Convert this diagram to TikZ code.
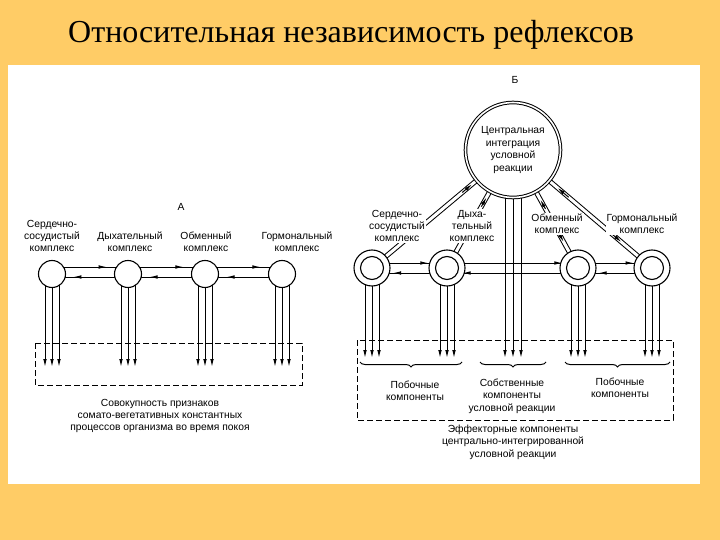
\documentclass[tikz,border=0pt]{standalone}
\usepackage{fontspec}
\setmainfont{Liberation Serif}
\newfontfamily\lab{Liberation Sans}
\usetikzlibrary{arrows.meta,decorations.markings,decorations.pathreplacing,calc}
\begin{document}
\begin{tikzpicture}[x=1pt,y=-1pt,
  tip/.style={-{Latex[length=8pt,width=3.6pt]}},
  midarr/.style={postaction={decorate,decoration={markings,mark=at position #1 with {\arrow{Latex[length=8pt,width=3.6pt]}}}}},
  lbl/.style={font=\lab\fontsize{10.3}{12.4}\selectfont,align=center,inner sep=1pt},
  lblw/.style={lbl,fill=white},
  cA/.style={circle,draw,fill=white,minimum size=27pt,inner sep=0pt,line width=1.1pt},
  cBo/.style={circle,draw,fill=white,minimum size=36pt,inner sep=0pt,line width=1.1pt},
  cBi/.style={circle,draw,minimum size=23pt,inner sep=0pt,line width=1.1pt},
  tube/.style={draw,line width=1pt,double=white,double distance=3pt},
  dbox/.style={draw,dashed,dash pattern=on 6pt off 3pt,line width=1pt},
  ln/.style={line width=1pt}]
\useasboundingbox (0,0) rectangle (720,540);
\fill[fill={rgb,255:red,255;green,204;blue,102}] (0,0) rectangle (720,540);
\fill[white] (8,65) rectangle (700,484);
\node[anchor=base west,font=\fontsize{32}{36}\selectfont,inner sep=0] (title) at (68,43) {Относительная независимость рефлексов};

% ---------- Part A ----------
\node[lbl] (A) at (181,207) {А};
\foreach \n/\x in {a1/52,a2/128,a3/205,a4/282}{\coordinate (\n) at (\x,274);}
\foreach \p/\q in {a1/a2,a2/a3,a3/a4}{
  \draw[ln,midarr=0.72] ($(\p)+(0,-7)$) -- ($(\q)+(0,-7)$);
  \draw[ln,midarr=0.72] ($(\q)+(0,3)$) -- ($(\p)+(0,3)$);
}
\foreach \n in {a1,a2,a3,a4}{
  \foreach \d in {-7,0,7}{\draw[ln,tip] ($(\n)+(\d,0)$) -- ($(\n)+(\d,93)$);}
  \node[cA] at (\n) {};
}
\node[lbl] (la1) at (52,236) {Сердечно-\\сосудистый\\комплекс};
\node[lbl] (la2) at (130,242) {Дыхательный\\комплекс};
\node[lbl] (la3) at (206,242) {Обменный\\комплекс};
\node[lbl] (la4) at (297,242) {Гормональный\\комплекс};
\draw[dbox] (35,343) rectangle (302,385);
\node[lbl] (sumA) at (160,416) {Совокупность признаков\\сомато-вегетативных константных\\процессов организма во время покоя};

% ---------- Part B ----------
\node[lbl] (B) at (515,80) {Б};
\coordinate (big) at (513,150);
\foreach \n/\x in {b1/372,b2/447,b3/578,b4/652}{\coordinate (\n) at (\x,268);}
\foreach \n in {b1,b2,b3,b4}{
  \path[tube] (\n) -- (big);
}
\foreach \n/\s/\e in {b1/0.64/0.71,b2/0.52/0.60,b3/0.50/0.58,b4/0.60/0.68}{
  \draw[ln,tip] ($(\n)!\s!(big)$) -- ($(\n)!\e!(big)$);
  \draw[ln,tip] ($(\n)!0.32!(big)$) -- ($(\n)!0.22!(big)$);
}
\foreach \p/\q/\a/\b in {b1/b2/0.75/0.72,b2/b3/0.88/0.88,b3/b4/0.75/0.72}{
  \draw[ln,midarr=\a] ($(\p)+(0,-5)$) -- ($(\q)+(0,-5)$);
  \draw[ln,midarr=\b] ($(\q)+(0,5)$) -- ($(\p)+(0,5)$);
}
\foreach \n in {b1,b2,b3,b4}{
  \foreach \d in {-7,0,7}{\draw[ln,tip] ($(\n)+(\d,0)$) -- ($(\n)+(\d,90)$);}
  \node[cBo] at (\n) {};
  \node[cBi] at (\n) {};
}
\foreach \d in {-8,0,8}{\draw[ln,tip] ($(big)+(\d,0)$) -- ($(big)+(\d,208)$);}
\node[circle,draw,fill=white,minimum size=95pt,inner sep=0pt,line width=1pt,double=white,double distance=1.6pt] (bigc) at (big) {};
\node[lbl] (ct) at (big) {Центральная\\интеграция\\условной\\реакции};
\node[lblw] (lb1) at (397,226) {Сердечно-\\сосудистый\\комплекс};
\node[lblw] (lb2) at (472,226) {Дыха-\\тельный\\комплекс};
\node[lblw] (lb3) at (557,224) {Обменный\\комплекс};
\node[lblw] (lb4) at (642,224) {Гормональный\\комплекс};
\draw[dbox] (357,340) rectangle (673,420);
\draw[ln,decorate,decoration={brace,mirror,amplitude=5pt}] (360,362) -- (462,362);
\draw[ln,decorate,decoration={brace,mirror,amplitude=5pt}] (480,362) -- (546,362);
\draw[ln,decorate,decoration={brace,mirror,amplitude=5pt}] (565,362) -- (670,362);
\node[lbl] (p1) at (415,391) {Побочные\\компоненты};
\node[lbl] (own) at (512,396) {Собственные\\компоненты\\условной реакции};
\node[lbl] (p2) at (620,388) {Побочные\\компоненты};
\node[lbl] (eff) at (513,442) {Эффекторные компоненты\\центрально-интегрированной\\условной реакции};
\end{tikzpicture}
\end{document}
